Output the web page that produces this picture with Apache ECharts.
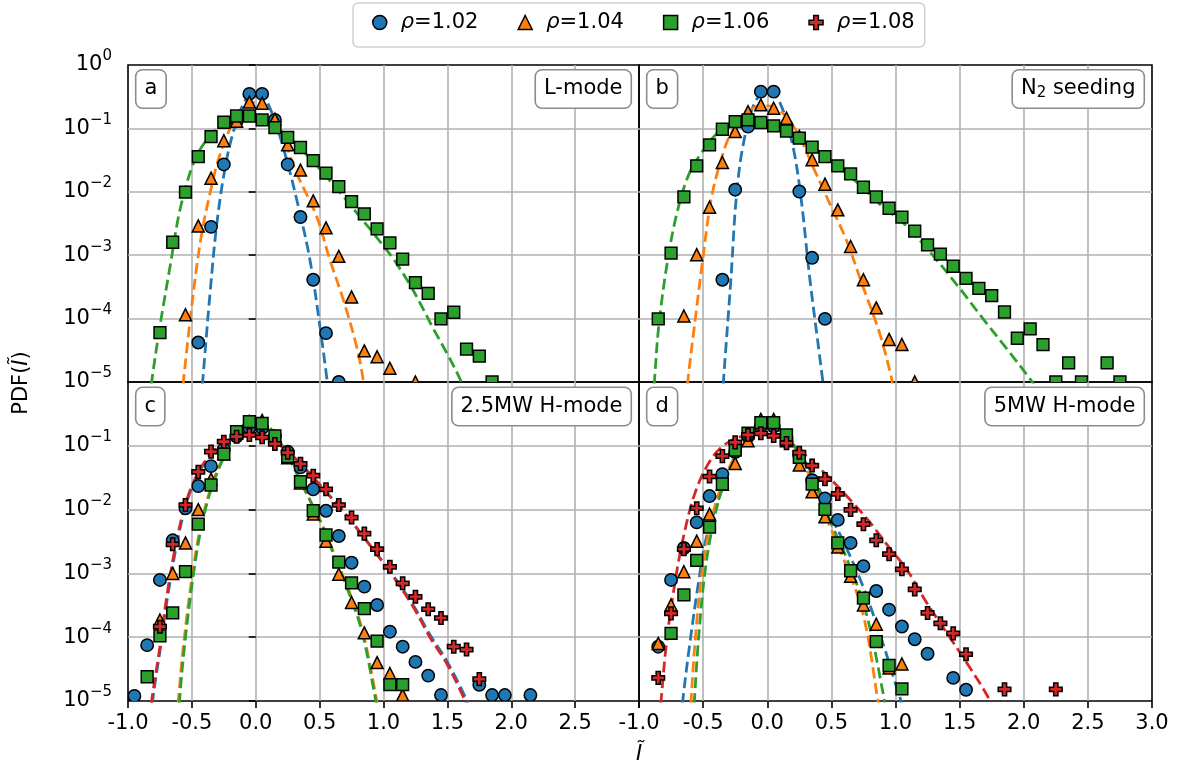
<!DOCTYPE html>
<html>
<head>
<meta charset="utf-8">
<script src="https://cdn.jsdelivr.net/npm/echarts@6/dist/echarts.min.js"></script>
<style>
html,body{margin:0;padding:0;background:#fff}
#chart{width:1194px;height:769px}
</style>
</head>
<body>
<div id="chart"></div>
<script>
// ---- labels ----
const rhoLabels = ['ρ=1.02', 'ρ=1.04', 'ρ=1.06', 'ρ=1.08'];
const panelTags = ['a', 'b', 'c', 'd'];
const panelTitles = ['L-mode', 'N{sub|2} seeding', '2.5MW H-mode', '5MW H-mode'];
const xTickValues = [-1, -0.5, 0, 0.5, 1, 1.5, 2, 2.5, 3];

// ---- measured PDFs: [I~, PDF] ----
// panel a: L-mode
const a102 = [[-0.45,4.2e-5],[-0.35,2.8e-3],[-0.25,0.027],[-0.15,0.13],[-0.05,0.35],[0.05,0.35],[0.15,0.136],[0.25,0.027],[0.35,4e-3],[0.45,4.1e-4],[0.55,5.9e-5],[0.65,1e-5]];
const a104 = [[-0.55,1.15e-4],[-0.45,2.9e-3],[-0.35,0.0164],[-0.25,0.064],[-0.15,0.13],[-0.05,0.26],[0.05,0.25],[0.15,0.14],[0.25,0.055],[0.35,0.022],[0.45,7.2e-3],[0.55,2.7e-3],[0.65,9.6e-4],[0.75,2.2e-4],[0.85,3.1e-5],[0.95,2.5e-5],[1.05,1.65e-5],[1.25,1e-5]];
const a106 = [[-0.75,6e-5],[-0.65,1.6e-3],[-0.55,9.9e-3],[-0.45,0.036],[-0.35,0.074],[-0.25,0.125],[-0.15,0.157],[-0.05,0.157],[0.05,0.136],[0.15,0.103],[0.25,0.072],[0.35,0.05],[0.45,0.031],[0.55,0.0197],[0.65,0.0121],[0.75,7e-3],[0.85,4.5e-3],[0.95,2.6e-3],[1.05,1.56e-3],[1.15,8.7e-4],[1.25,3.7e-4],[1.35,2.5e-4],[1.45,9.9e-5],[1.55,1.26e-4],[1.65,3.3e-5],[1.75,2.56e-5],[1.85,1e-5]];
// panel b: N2 seeding
const b102 = [[-0.35,4.1e-4],[-0.25,0.0108],[-0.15,0.107],[-0.05,0.38],[0.05,0.38],[0.15,0.11],[0.25,0.0101],[0.35,9.1e-4],[0.45,9.9e-5]];
const b104 = [[-0.65,1.1e-4],[-0.55,1.02e-3],[-0.45,5.7e-3],[-0.35,0.029],[-0.25,0.089],[-0.15,0.184],[-0.05,0.235],[0.05,0.208],[0.15,0.145],[0.25,0.075],[0.35,0.032],[0.45,0.0132],[0.55,5.2e-3],[0.65,1.37e-3],[0.75,4.1e-4],[0.85,1.48e-4],[0.95,4.7e-5],[1.05,3.9e-5],[1.15,1e-5]];
const b106 = [[-0.85,9.9e-5],[-0.75,1.08e-3],[-0.65,8.3e-3],[-0.55,0.0257],[-0.45,0.055],[-0.35,0.097],[-0.25,0.128],[-0.15,0.136],[-0.05,0.124],[0.05,0.11],[0.15,0.091],[0.25,0.07],[0.35,0.0506],[0.45,0.036],[0.55,0.0257],[0.65,0.0192],[0.75,0.0118],[0.85,8.3e-3],[0.95,5.5e-3],[1.05,4e-3],[1.15,2.4e-3],[1.25,1.46e-3],[1.35,1.04e-3],[1.45,6.7e-4],[1.55,4.3e-4],[1.65,3e-4],[1.75,2.3e-4],[1.85,1.27e-4],[1.95,4.9e-5],[2.05,6.9e-5],[2.15,3.9e-5],[2.25,1e-5],[2.35,2e-5],[2.45,1e-5],[2.65,2e-5],[2.75,1e-5]];
// panel c: 2.5MW H-mode
const c102 = [[-0.95,1.2e-5],[-0.85,7.5e-5],[-0.75,7.9e-4],[-0.65,3.3e-3],[-0.55,0.0105],[-0.45,0.0234],[-0.35,0.048],[-0.25,0.088],[-0.15,0.14],[-0.05,0.19],[0.05,0.19],[0.15,0.14],[0.25,0.081],[0.35,0.046],[0.45,0.0208],[0.55,9.6e-3],[0.65,3.86e-3],[0.75,1.47e-3],[0.85,6.2e-4],[0.95,3.2e-4],[1.05,1.22e-4],[1.15,7.1e-5],[1.25,4.1e-5],[1.35,2.5e-5],[1.45,1.24e-5],[1.75,1.8e-5],[1.85,1.24e-5],[1.95,1.24e-5],[2.15,1.24e-5]];
const c104 = [[-0.75,1.86e-4],[-0.65,1e-3],[-0.55,3e-3],[-0.45,0.01],[-0.35,0.03],[-0.25,0.075],[-0.15,0.16],[-0.05,0.24],[0.05,0.25],[0.15,0.14],[0.25,0.065],[0.35,0.026],[0.45,8.5e-3],[0.55,3.2e-3],[0.65,9.7e-4],[0.75,3.5e-4],[0.85,1.17e-4],[0.95,4e-5],[1.05,2.7e-5],[1.15,1.24e-5]];
const c106 = [[-0.85,2.4e-5],[-0.75,1.05e-4],[-0.65,2.4e-4],[-0.55,1.07e-3],[-0.45,5.9e-3],[-0.35,0.0243],[-0.25,0.074],[-0.15,0.166],[-0.05,0.239],[0.05,0.225],[0.15,0.143],[0.25,0.068],[0.35,0.0274],[0.45,9.6e-3],[0.55,4e-3],[0.65,1.5e-3],[0.75,7.1e-4],[0.85,2.8e-4],[0.95,8.7e-5],[1.05,1.8e-5],[1.15,1.8e-5]];
const c108 = [[-0.75,1.46e-4],[-0.65,2.86e-3],[-0.55,0.0118],[-0.45,0.039],[-0.35,0.081],[-0.25,0.116],[-0.15,0.139],[-0.05,0.148],[0.05,0.136],[0.15,0.107],[0.25,0.078],[0.35,0.052],[0.45,0.034],[0.55,0.0208],[0.65,0.0118],[0.75,7.5e-3],[0.85,4.2e-3],[0.95,2.4e-3],[1.05,1.27e-3],[1.15,7e-4],[1.25,4.3e-4],[1.35,2.74e-4],[1.45,2e-4],[1.55,7.1e-5],[1.65,6.4e-5],[1.75,2.2e-5]];
// panel d: 5MW H-mode
const d102 = [[-0.85,7.1e-5],[-0.75,7.9e-4],[-0.65,2.5e-3],[-0.55,6.3e-3],[-0.45,0.0163],[-0.35,0.036],[-0.25,0.08],[-0.15,0.14],[-0.05,0.2],[0.05,0.2],[0.15,0.13],[0.25,0.07],[0.35,0.029],[0.45,0.015],[0.55,6.9e-3],[0.65,3e-3],[0.75,1.3e-3],[0.85,5.3e-4],[0.95,2.7e-4],[1.05,1.47e-4],[1.15,9.3e-5],[1.25,5.5e-5],[1.45,2.3e-5],[1.55,1.5e-5]];
const d104 = [[-0.85,8e-5],[-0.75,3.2e-4],[-0.65,1.06e-3],[-0.55,3.2e-3],[-0.45,8.5e-3],[-0.35,0.025],[-0.25,0.053],[-0.15,0.12],[-0.05,0.26],[0.05,0.26],[0.15,0.12],[0.25,0.05],[0.35,0.019],[0.45,7.7e-3],[0.55,2.6e-3],[0.65,9e-4],[0.75,3.2e-4],[0.85,1.6e-4],[0.95,3.3e-5],[1.05,3.8e-5]];
const d106 = [[-0.75,1.15e-4],[-0.65,4.6e-4],[-0.55,1.6e-3],[-0.45,5.3e-3],[-0.35,0.0252],[-0.25,0.086],[-0.15,0.158],[-0.05,0.23],[0.05,0.23],[0.15,0.148],[0.25,0.066],[0.35,0.025],[0.45,0.0101],[0.55,3e-3],[0.65,1.1e-3],[0.75,4.1e-4],[0.85,8.5e-5],[0.95,3.6e-5],[1.05,1.55e-5]];
const d108 = [[-0.85,2.3e-5],[-0.75,2.36e-4],[-0.65,2.4e-3],[-0.55,0.0105],[-0.45,0.033],[-0.35,0.069],[-0.25,0.113],[-0.15,0.148],[-0.05,0.157],[0.05,0.143],[0.15,0.11],[0.25,0.078],[0.35,0.049],[0.45,0.03],[0.55,0.0176],[0.65,9.9e-3],[0.75,5.9e-3],[0.85,3.3e-3],[0.95,2e-3],[1.05,1.16e-3],[1.15,5.6e-4],[1.25,2.4e-4],[1.35,1.65e-4],[1.45,1.15e-4],[1.55,5.4e-5],[1.85,1.52e-5],[2.25,1.52e-5]];

// ---- fitted model curves (dashed) ----
const fitA102 = [[-0.43,5e-6],[-0.416,1e-5],[-0.358,2.5e-4],[-0.301,3.6e-3],[-0.228,0.032],[-0.15,0.13],[-0.07,0.3],[0,0.37],[0.07,0.3],[0.15,0.13],[0.242,0.032],[0.333,5.9e-3],[0.424,8.5e-4],[0.502,7.6e-5],[0.56,1e-5],[0.575,5e-6]];
const fitA104 = [[-0.58,5e-6],[-0.567,1e-5],[-0.489,2.5e-4],[-0.423,2.2e-3],[-0.358,9.5e-3],[-0.293,0.032],[-0.2,0.1],[-0.1,0.2],[0,0.26],[0.1,0.2],[0.2,0.085],[0.32,0.0197],[0.476,4.1e-3],[0.58,8.5e-4],[0.685,2e-4],[0.79,3.6e-5],[0.841,1.1e-5],[0.85,7e-6]];
const fitA106 = [[-0.83,5e-6],[-0.815,1e-5],[-0.75,7.6e-5],[-0.671,6.6e-4],[-0.593,5.2e-3],[-0.489,0.028],[-0.4,0.06],[-0.3,0.1],[-0.2,0.14],[-0.1,0.158],[0,0.152],[0.1,0.125],[0.2,0.09],[0.3,0.06],[0.4,0.038],[0.5,0.023],[0.6,0.0135],[0.7,7.8e-3],[0.8,4.4e-3],[0.9,2.5e-3],[1.0,1.4e-3],[1.1,7.5e-4],[1.232,2.8e-4],[1.389,7e-5],[1.494,2.9e-5],[1.6,1.1e-5],[1.62,8e-6]];
const fitB102 = [[-0.35,5e-6],[-0.342,1e-5],[-0.282,4.6e-4],[-0.243,7.5e-3],[-0.19,0.052],[-0.1,0.25],[0,0.39],[0.1,0.25],[0.2,0.052],[0.265,7.5e-3],[0.33,4.6e-4],[0.434,1e-5],[0.445,6e-6]];
const fitB104 = [[-0.63,5e-6],[-0.62,1e-5],[-0.568,7.6e-5],[-0.503,8.5e-4],[-0.438,7.5e-3],[-0.36,0.032],[-0.282,0.084],[-0.15,0.18],[-0.05,0.23],[0.05,0.22],[0.15,0.15],[0.25,0.075],[0.356,0.025],[0.486,6.6e-3],[0.616,1.75e-3],[0.746,3.2e-4],[0.876,5.9e-5],[0.967,1.2e-5],[0.98,8e-6]];
const fitB106 = [[-0.89,5e-6],[-0.88,1e-5],[-0.846,7.6e-5],[-0.776,8.5e-4],[-0.698,5.2e-3],[-0.607,0.0197],[-0.5,0.045],[-0.4,0.08],[-0.3,0.112],[-0.2,0.13],[-0.1,0.13],[0,0.118],[0.1,0.1],[0.2,0.08],[0.3,0.06],[0.4,0.043],[0.5,0.03],[0.6,0.021],[0.7,0.014],[0.8,9e-3],[0.9,5.8e-3],[1.063,3.2e-3],[1.298,9.6e-4],[1.506,2.9e-4],[1.688,9.6e-5],[1.87,3.3e-5],[2.066,1e-5],[2.09,8e-6]];
const fitC102 = [[-0.82,5e-6],[-0.808,1e-5],[-0.745,7.1e-5],[-0.69,4.3e-4],[-0.612,3.3e-3],[-0.535,0.014],[-0.45,0.037],[-0.35,0.073],[-0.25,0.11],[-0.15,0.14],[-0.05,0.152],[0.05,0.145],[0.15,0.118],[0.25,0.083],[0.35,0.052],[0.45,0.032],[0.55,0.019],[0.685,9.3e-3],[0.85,3.6e-3],[1.076,9.2e-4],[1.232,3.2e-4],[1.363,1.1e-4],[1.494,4.3e-5],[1.645,1.1e-5],[1.665,8e-6]];
const fitC104 = [[-0.615,5e-6],[-0.606,1e-5],[-0.567,7.1e-5],[-0.502,7.9e-4],[-0.437,4.8e-3],[-0.358,0.02],[-0.25,0.07],[-0.15,0.16],[-0.05,0.23],[0.05,0.23],[0.15,0.15],[0.25,0.07],[0.35,0.028],[0.45,0.011],[0.528,5.4e-3],[0.633,1.6e-3],[0.737,4.9e-4],[0.841,1.15e-4],[0.946,1.05e-5],[0.955,8e-6]];
const fitC106 = [[-0.605,5e-6],[-0.597,1e-5],[-0.558,7.1e-5],[-0.494,7.9e-4],[-0.43,4.8e-3],[-0.352,0.02],[-0.245,0.07],[-0.147,0.16],[-0.05,0.235],[0.05,0.235],[0.15,0.15],[0.25,0.07],[0.35,0.028],[0.45,0.011],[0.524,5.4e-3],[0.628,1.6e-3],[0.73,4.9e-4],[0.835,1.15e-4],[0.938,1.05e-5],[0.947,8e-6]];
const fitC108 = [[-0.83,5e-6],[-0.815,1e-5],[-0.75,7.1e-5],[-0.697,4.3e-4],[-0.619,3.3e-3],[-0.541,0.014],[-0.45,0.038],[-0.35,0.075],[-0.25,0.11],[-0.15,0.137],[-0.05,0.148],[0.05,0.14],[0.15,0.115],[0.25,0.082],[0.35,0.052],[0.45,0.032],[0.55,0.019],[0.685,9.5e-3],[0.85,3.6e-3],[1.076,8.9e-4],[1.232,3e-4],[1.363,1e-4],[1.494,3.9e-5],[1.63,1.1e-5],[1.65,8e-6]];
const fitD102 = [[-0.67,5e-6],[-0.659,1e-5],[-0.607,7.1e-5],[-0.542,6e-4],[-0.48,3.3e-3],[-0.4,0.011],[-0.3,0.04],[-0.2,0.1],[-0.1,0.17],[0,0.2],[0.1,0.17],[0.2,0.11],[0.3,0.055],[0.4,0.022],[0.5,7.5e-3],[0.59,3.3e-3],[0.746,6.3e-4],[0.902,8e-5],[1.006,1.7e-5],[1.037,1.1e-5],[1.05,7e-6]];
const fitD104 = [[-0.6,5e-6],[-0.594,1e-5],[-0.56,1e-4],[-0.51,1e-3],[-0.45,5e-3],[-0.37,0.02],[-0.25,0.07],[-0.12,0.17],[0,0.24],[0.12,0.17],[0.25,0.07],[0.37,0.022],[0.48,6e-3],[0.59,1.8e-3],[0.746,2.36e-4],[0.863,1e-5],[0.87,7e-6]];
const fitD106 = [[-0.575,5e-6],[-0.568,1e-5],[-0.535,1e-4],[-0.487,1e-3],[-0.43,5e-3],[-0.355,0.02],[-0.24,0.07],[-0.11,0.17],[0,0.235],[0.12,0.17],[0.26,0.07],[0.39,0.022],[0.5,6e-3],[0.616,1.8e-3],[0.772,2.36e-4],[0.915,1e-5],[0.922,7e-6]];
const fitD108 = [[-0.84,5e-6],[-0.828,1e-5],[-0.789,7.1e-5],[-0.737,4.3e-4],[-0.659,3.3e-3],[-0.555,0.0203],[-0.425,0.067],[-0.3,0.115],[-0.15,0.15],[-0.05,0.158],[0.05,0.15],[0.15,0.12],[0.25,0.086],[0.35,0.057],[0.45,0.037],[0.55,0.023],[0.65,0.014],[0.798,6.4e-3],[0.954,2.5e-3],[1.09,1.13e-3],[1.246,3.4e-4],[1.402,1.15e-4],[1.558,3.9e-5],[1.727,1.1e-5],[1.74,8e-6]];

// per panel: [rho index, markers, fit]
const panels = [
  [[0, a102, fitA102], [1, a104, fitA104], [2, a106, fitA106]],
  [[0, b102, fitB102], [1, b104, fitB104], [2, b106, fitB106]],
  [[0, c102, fitC102], [1, c104, fitC104], [2, c106, fitC106], [3, c108, fitC108]],
  [[0, d102, fitD102], [1, d104, fitD104], [2, d106, fitD106], [3, d108, fitD108]]
];

// ---- style ----
const FONT = "'DejaVu Sans', 'Liberation Sans', sans-serif";
const colors = ['#1f77b4', '#ff7f0e', '#2ca02c', '#d62728'];
const shapes = ['circle', 'triangle', 'square', 'plus'];
const legendIcons = [
  'circle',
  'path://M0,-1L1,1L-1,1Z',
  'path://M-1,-1L1,-1L1,1L-1,1Z',
  'path://M-1,-3L1,-3L1,-1L3,-1L3,1L1,1L1,3L-1,3L-1,1L-3,1L-3,-1L-1,-1Z'
];
const gridBoxes = [
  {left: 128, top: 65, width: 511, height: 317},
  {left: 639, top: 65, width: 513, height: 317},
  {left: 128, top: 382, width: 511, height: 319},
  {left: 639, top: 382, width: 513, height: 319}
];

function markerShape(kind, p, color) {
  const style = {fill: color, stroke: '#000', lineWidth: 1.5};
  const x = p[0], y = p[1];
  if (kind === 'circle') return {type: 'circle', shape: {cx: x, cy: y, r: 6.2}, style};
  if (kind === 'triangle') {
    const h = 6;
    return {type: 'polygon', shape: {points: [[x, y - h], [x + h, y + h], [x - h, y + h]]}, style};
  }
  if (kind === 'square') {
    const h = 5.9;
    return {type: 'rect', shape: {x: x - h, y: y - h, width: 2 * h, height: 2 * h}, style};
  }
  const a = 2.1, b = 6.3;
  return {type: 'polygon', shape: {points: [
    [x - a, y - b], [x + a, y - b], [x + a, y - a], [x + b, y - a], [x + b, y + a], [x + a, y + a],
    [x + a, y + b], [x - a, y + b], [x - a, y + a], [x - b, y + a], [x - b, y - a], [x - a, y - a]]}, style};
}

const series = [];
panels.forEach((list, p) => {
  list.forEach(([k, pts, fit]) => {
    series.push({
      type: 'line', xAxisIndex: p, yAxisIndex: p, data: fit,
      smooth: 0.35, showSymbol: false, symbol: 'none', clip: true, z: 2,
      silent: true, animation: false,
      lineStyle: {color: colors[k], width: 2.8, type: [11, 5]}
    });
  });
});
panels.forEach((list, p) => {
  list.forEach(([k, pts]) => {
    series.push({
      type: 'custom', name: rhoLabels[k], xAxisIndex: p, yAxisIndex: p,
      data: pts, encode: {x: 0, y: 1}, clip: true, z: 3, silent: true, animation: false,
      itemStyle: {color: colors[k], borderColor: '#000', borderWidth: 1.5},
      renderItem: (params, api) => markerShape(shapes[k], api.coord([api.value(0), api.value(1)]), colors[k])
    });
  });
});

const gridLine = {color: '#b0b0b0', width: 1.6};
const xAxis = [0, 1, 2, 3].map(p => ({
  gridIndex: p, type: 'value', min: -1, max: 3, interval: 0.5,
  axisLine: {show: false},
  axisTick: {show: p >= 2, length: 7, lineStyle: {color: '#000', width: 1.6}},
  axisLabel: {
    show: p >= 2, margin: 12, fontFamily: FONT, fontSize: 21, color: '#000',
    showMinLabel: true, showMaxLabel: true,
    formatter: v => (p === 2 && v === 3) ? '' : v.toFixed(1)
  },
  splitLine: {show: true, showMinLine: false, showMaxLine: false, lineStyle: gridLine}
}));
const yAxis = [0, 1, 2, 3].map(p => ({
  gridIndex: p, type: 'log', logBase: 10, min: 1e-5, max: 1,
  axisLine: {show: false},
  axisTick: {show: p % 2 === 0, length: 7, lineStyle: {color: '#000', width: 1.6}},
  minorTick: {show: false},
  axisLabel: {
    show: p % 2 === 0, margin: 16, color: '#000',
    showMinLabel: true, showMaxLabel: true,
    formatter: v => {
      const e = Math.round(Math.log10(v));
      if (p === 2 && e === 0) return '';
      return '{b|10}{e|' + (e === 0 ? '0' : '\u2212' + (-e)) + '}';
    },
    rich: {
      b: {fontFamily: FONT, fontSize: 21, color: '#000'},
      e: {fontFamily: FONT, fontSize: 15, color: '#000', padding: [0, 0, 17, 0]}
    }
  },
  splitLine: {show: true, showMinLine: false, showMaxLine: false, lineStyle: gridLine}
}));

const boxStyle = {
  fontFamily: FONT, fontSize: 21, lineHeight: 21, fill: '#000', backgroundColor: '#fff',
  borderColor: '#8c8c8c', borderWidth: 1.6, borderRadius: 6, padding: [8, 8, 8, 8]
};
const graphic = [];
gridBoxes.forEach((g, p) => {
  const top = g.top + (p < 2 ? 5.5 : 6);
  graphic.push({
    type: 'text', x: g.left + 8.5, y: top, z: 100,
    style: Object.assign({}, boxStyle, {text: panelTags[p], align: 'left', verticalAlign: 'top'})
  });
  graphic.push({
    type: 'text', x: g.left + g.width - 8.5, y: top, z: 100,
    style: Object.assign({}, boxStyle, {
      text: panelTitles[p], align: 'right', verticalAlign: 'top',
      rich: {sub: {fontFamily: FONT, fontSize: 15, fill: '#000', padding: [8, 0, 0, 0]}}
    })
  });
});
graphic.push({
  type: 'text', x: 639, y: 755, z: 100,
  style: {text: 'Ĩ', fontFamily: FONT, fontSize: 21, fontStyle: 'italic', fill: '#000', align: 'center', verticalAlign: 'middle'}
});
graphic.push({
  type: 'text', x: 22, y: 383, rotation: Math.PI / 2, z: 100,
  style: {
    text: 'PDF({i|Ĩ})', fontFamily: FONT, fontSize: 21, fill: '#000', align: 'center', verticalAlign: 'middle',
    rich: {i: {fontFamily: FONT, fontSize: 21, fontStyle: 'italic', fill: '#000'}}
  }
});

const chart = echarts.init(document.getElementById('chart'), null, {renderer: 'canvas'});
chart.setOption({
  animation: false,
  backgroundColor: '#fff',
  grid: gridBoxes.map(g => Object.assign({}, g, {
    show: true, borderColor: '#000', borderWidth: 1.6, backgroundColor: 'transparent',
    containLabel: false, outerBoundsMode: 'none'
  })),
  xAxis, yAxis, series, graphic,
  legend: {
    left: 353, top: 3, orient: 'horizontal', padding: [9, 10, 14, 19],
    itemGap: 39, itemWidth: 14, itemHeight: 14, symbolKeepAspect: true,
    borderColor: '#d0d0d0', borderWidth: 1.5, borderRadius: 5, backgroundColor: '#fff',
    selectedMode: false,
    data: rhoLabels.map((n, k) => ({
      name: n, icon: legendIcons[k],
      itemStyle: {color: colors[k], borderColor: '#000', borderWidth: 1.5}
    })),
    formatter: n => '{i|ρ}' + n.slice(1),
    textStyle: {
      fontFamily: FONT, fontSize: 21, color: '#000',
      rich: {i: {fontFamily: FONT, fontSize: 21, fontStyle: 'italic', color: '#000', padding: [0, 0, 0, 9]}}
    }
  }
});
</script>
</body>
</html>
